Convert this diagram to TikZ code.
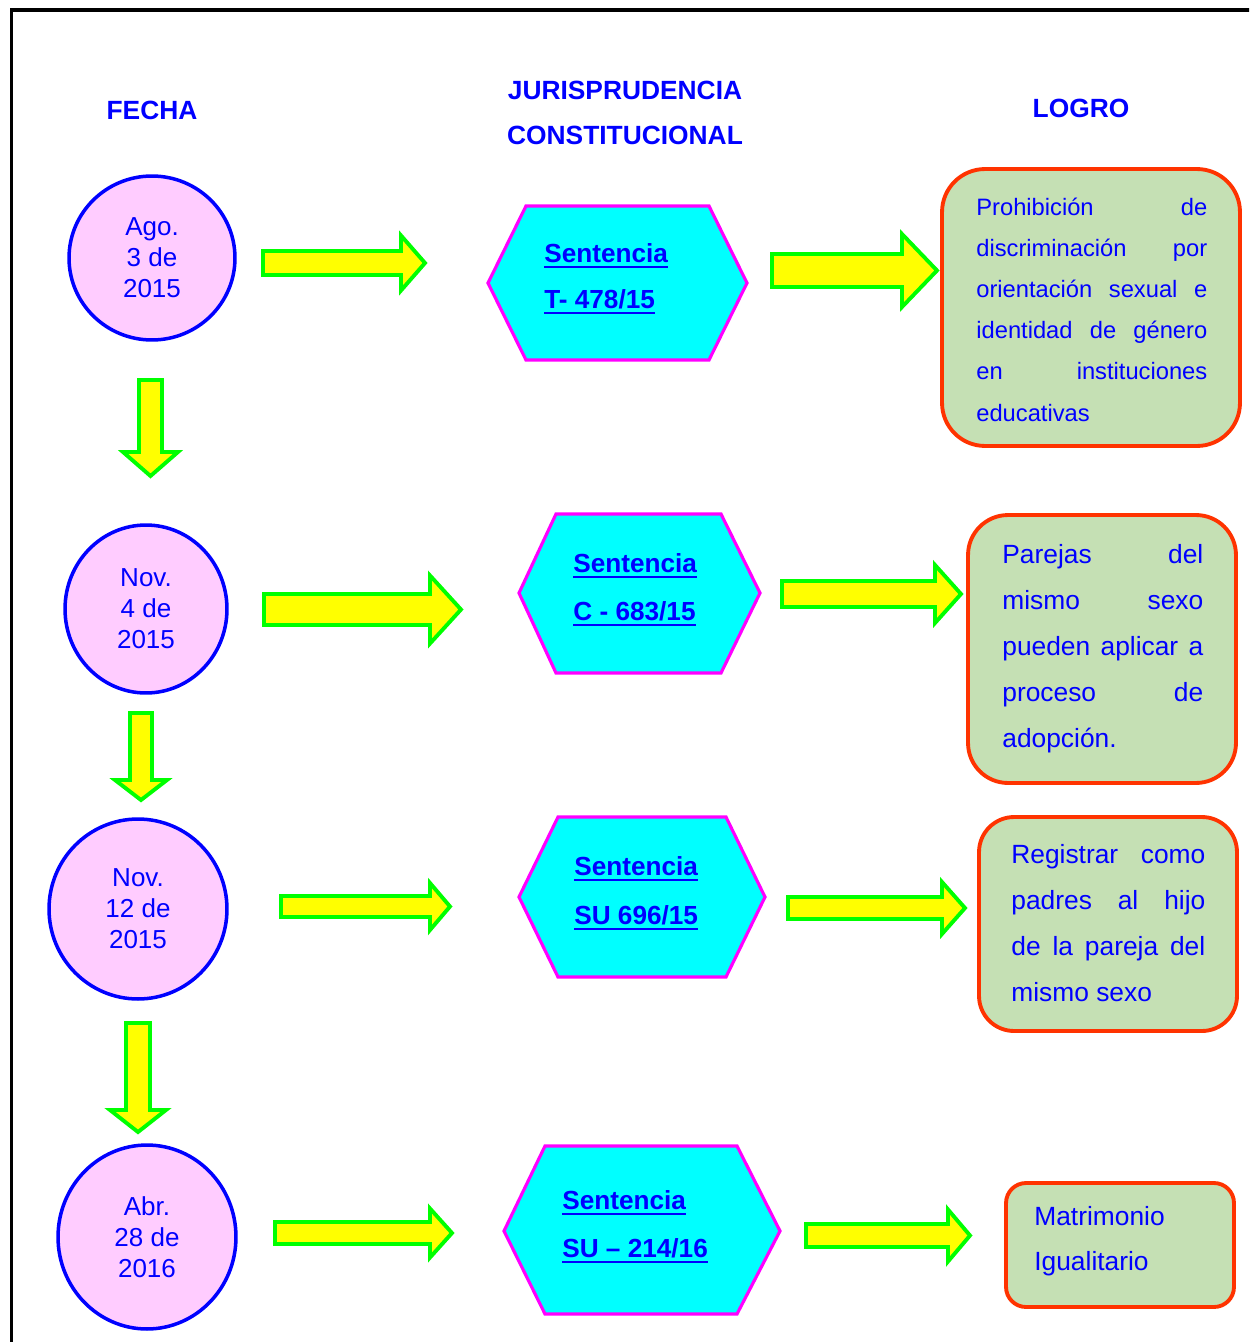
\documentclass[tikz,border=0pt]{standalone}
\usepackage{fontspec}
\setmainfont{Liberation Sans}
\usetikzlibrary{shapes.geometric}
\definecolor{txtblue}{RGB}{0,0,255}
\definecolor{circfill}{RGB}{255,204,255}
\definecolor{hexfill}{RGB}{0,255,255}
\definecolor{hexline}{RGB}{255,0,255}
\definecolor{boxfill}{RGB}{197,224,180}
\definecolor{boxline}{RGB}{255,51,0}
\definecolor{arrfill}{RGB}{255,255,0}
\definecolor{arrline}{RGB}{0,255,0}
\newcommand\ulbold[1]{\setbox0\hbox{#1}\rlap{\rule[-3.6pt]{\wd0}{1.3pt}}\box0}
\newcommand\harr[6]{\draw[blockarrow] (#1,#4-#5) -- (#2,#4-#5) -- (#2,#4-#6) -- (#3,#4) -- (#2,#4+#6) -- (#2,#4+#5) -- (#1,#4+#5) -- cycle;}
\newcommand\varr[6]{\draw[blockarrow] (#4-#5,#1) -- (#4-#5,#2) -- (#4-#6,#2) -- (#4,#3) -- (#4+#6,#2) -- (#4+#5,#2) -- (#4+#5,#1) -- cycle;}
\newcommand\hexa[8]{\draw[hexshape] (#1,#6) -- (#2,#5) -- (#3,#5) -- (#4,#6) -- (#3,#7) -- (#2,#7) -- cycle; \coordinate (#8) at ({(#1+#4)/2},#6);}
\newcommand\jlinebox[5]{\node[boxtext, anchor=base west] (#1) at (#2,#3) {\makebox[#4cm][s]{#5}};}
\newcommand\lastlinebox[4]{\node[boxtext, anchor=base west] (#1) at (#2,#3) {#4};}
\newcommand\hexlinebox[4]{\node[hextext, anchor=base west] (#1) at (#2,#3) {\ulbold{#4}};}
\begin{document}
\begin{tikzpicture}[x=0.02cm, y=-0.02cm,
  blockarrow/.style={fill=arrfill, draw=arrline, line width=2.2pt, line join=miter},
  datecirc/.style={ellipse, fill=circfill, draw=txtblue, line width=2pt, inner sep=0pt, align=center, text=txtblue, font=\fontsize{14.8}{17.6}\selectfont},
  hexshape/.style={fill=hexfill, draw=hexline, line width=1.8pt, line join=miter},
  hextext/.style={inner sep=0pt, text=txtblue, font=\bfseries\fontsize{14.9}{18}\selectfont},
  logro/.style={rectangle, fill=boxfill, draw=boxline, line width=2.2pt, inner sep=0pt},
  boxtext/.style={inner sep=0pt, text=txtblue, font=\fontsize{15}{18}\selectfont},
  header/.style={inner sep=0pt, text=txtblue, font=\bfseries\fontsize{15}{18}\selectfont}]
\useasboundingbox (0,0) rectangle (1249,1342);
\clip (0,0) rectangle (1249,1342);
\fill[white] (0,0) rectangle (1249,1342);
% frame
\draw[line width=2pt] (11.5,1400) -- (11.5,10) -- (1300,10);
% headers
\node[header] (hfecha) at (152,110.5) {FECHA};
\node[header] (hjur1) at (625,90) {JURISPRUDENCIA};
\node[header] (hjur2) at (625,135) {CONSTITUCIONAL};
\node[header] (hlogro) at (1081,108) {LOGRO};
% date circles
\node[datecirc, minimum width=3.32cm, minimum height=3.28cm] (c1) at (152,258) {Ago.\\3 de\\2015};
\node[datecirc, minimum width=3.24cm, minimum height=3.36cm] (c2) at (146,609) {Nov.\\4 de\\2015};
\node[datecirc, minimum width=3.56cm, minimum height=3.6cm] (c3) at (138,909) {Nov.\\12 de\\2015};
\node[datecirc, minimum width=3.56cm, minimum height=3.68cm] (c4) at (147,1237) {Abr.\\28 de\\2016};
% down arrows
\varr{380}{452}{476}{150.5}{11.5}{27.5}
\varr{713}{780}{800}{141}{11}{26}
\varr{1023}{1110}{1132}{138}{12}{28}
% hexagons
\hexa{488}{526}{709}{747}{206}{283}{360}{h1}
\hexa{519}{556}{721}{760}{514}{593}{673}{h2}
\hexa{519}{558}{726}{765}{817}{897}{977}{h3}
\hexa{504}{545}{737}{780}{1146}{1231}{1314}{h4}
\hexlinebox{h1a}{544}{262}{Sentencia}
\hexlinebox{h1b}{544}{308}{T- 478/15}
\hexlinebox{h2a}{573}{572}{Sentencia}
\hexlinebox{h2b}{573}{620}{C - 683/15}
\hexlinebox{h3a}{574}{875}{Sentencia}
\hexlinebox{h3b}{574}{924}{SU 696/15}
\hexlinebox{h4a}{562}{1209}{Sentencia}
\hexlinebox{h4b}{562}{1257}{SU -- 214/16}
% horizontal arrows
\harr{263}{401}{425}{263}{12}{27.5}
\harr{772}{902}{937}{270.5}{16.5}{36.5}
\harr{264}{430}{461}{609.5}{15.5}{34}
\harr{782}{935}{961}{594}{13}{29}
\harr{281}{430}{450}{906.5}{10.5}{23.5}
\harr{788}{942}{965}{908}{11}{26}
\harr{275}{430}{452}{1233}{11}{24.5}
\harr{806}{948}{970}{1235.5}{11.5}{26}
% logro boxes
\node[logro, rounded corners=0.86cm, minimum width=5.96cm, minimum height=5.54cm] (b1) at (1091,307.5) {};
\node[logro, rounded corners=0.8cm, minimum width=5.36cm, minimum height=5.36cm] (b2) at (1102,649) {};
\node[logro, rounded corners=0.7cm, minimum width=5.16cm, minimum height=4.28cm] (b3) at (1108,924) {};
\node[logro, rounded corners=0.4cm, minimum width=4.56cm, minimum height=2.48cm] (b4) at (1120,1245) {};
% box 1 text
\begin{scope}[boxtext/.style={inner sep=0pt, text=txtblue, font=\fontsize{13.5}{16}\selectfont}]
\jlinebox{t11}{976}{215}{4.62}{Prohibición\hfill de}
\jlinebox{t12}{976}{256.2}{4.62}{discriminación\hfill por}
\jlinebox{t13}{976}{297.4}{4.62}{orientación\hfill sexual\hfill e}
\jlinebox{t14}{976}{338.6}{4.62}{identidad\hfill de\hfill género}
\jlinebox{t15}{976}{379.8}{4.62}{en\hfill instituciones}
\lastlinebox{t16}{976}{421}{educativas}
\end{scope}
% box 2 text
\jlinebox{t21}{1002}{563}{4.02}{Parejas\hfill del}
\jlinebox{t22}{1002}{609}{4.02}{mismo\hfill sexo}
\jlinebox{t23}{1002}{655}{4.02}{pueden\hfill aplicar\hfill a}
\jlinebox{t24}{1002}{701}{4.02}{proceso\hfill de}
\lastlinebox{t25}{1002}{747}{adopción.}
% box 3 text
\jlinebox{t31}{1011}{863}{3.88}{Registrar\hfill como}
\jlinebox{t32}{1011}{909}{3.88}{padres\hfill al\hfill hijo}
\jlinebox{t33}{1011}{955}{3.88}{de\hfill la\hfill pareja\hfill del}
\lastlinebox{t34}{1011}{1001}{mismo sexo}
% box 4 text
\lastlinebox{t41}{1034}{1225}{Matrimonio}
\lastlinebox{t42}{1034}{1270}{Igualitario}
\end{tikzpicture}
\end{document}
